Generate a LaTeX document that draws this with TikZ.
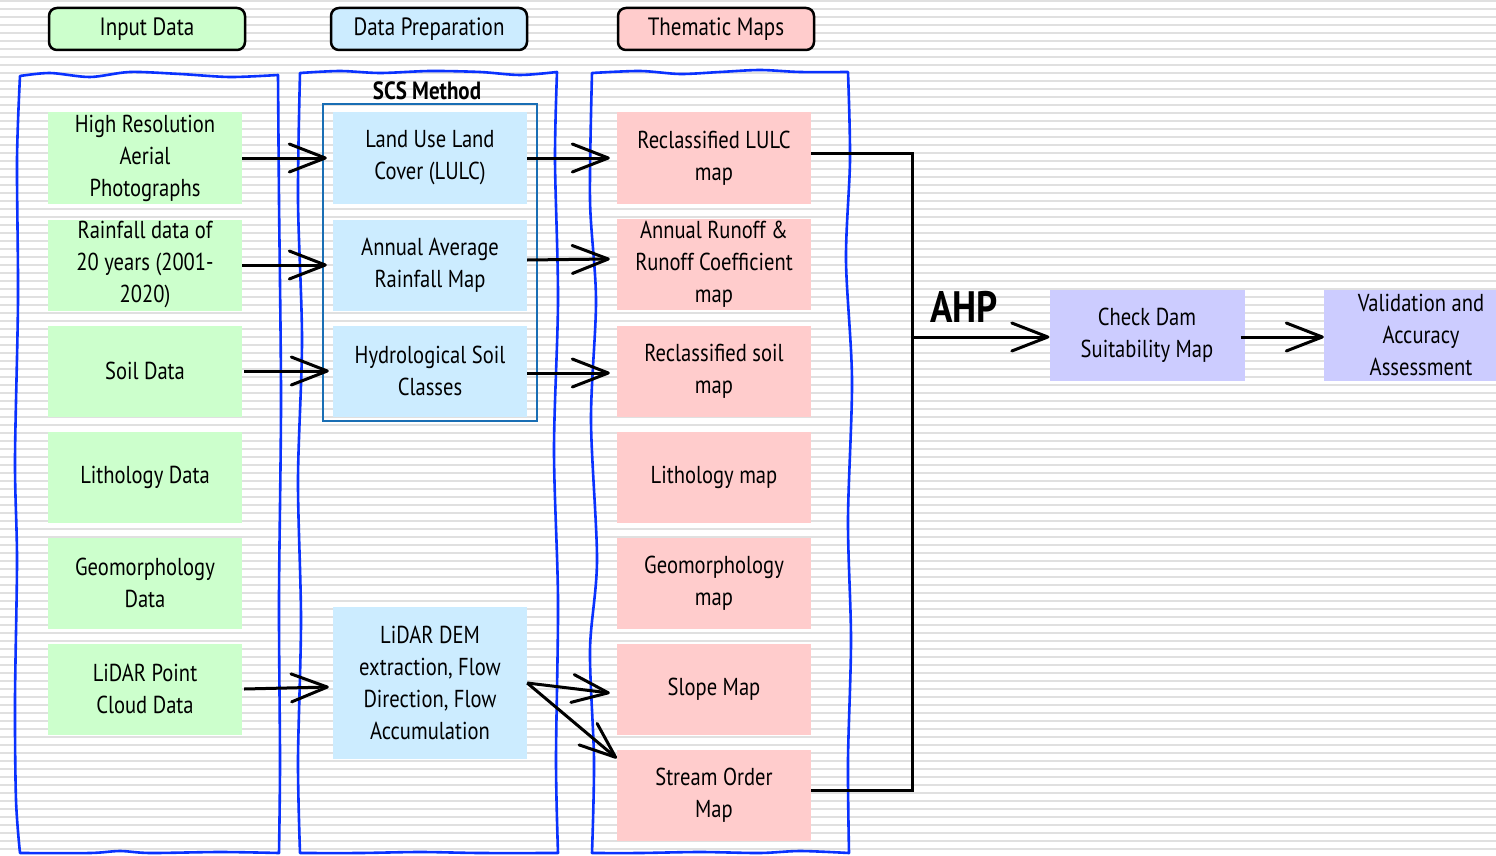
\documentclass[tikz,border=0pt]{standalone}
\usepackage{fontspec}
\setmainfont{PT Sans}[FakeStretch=0.84]
\usepackage{tikz}
\usetikzlibrary{arrows.meta,positioning,calc}
\definecolor{inputgreen}{RGB}{204,255,204}
\definecolor{prepblue}{RGB}{204,236,255}
\definecolor{mappink}{RGB}{255,204,204}
\definecolor{resultlilac}{RGB}{204,204,255}
\definecolor{framecol}{RGB}{10,50,255}
\definecolor{scsblue}{RGB}{25,110,180}
\tikzset{
    stepbox/.style={
        rectangle,
        minimum width=194pt,
        minimum height=91pt,
        inner sep=0pt,
        align=center,
        font=\fontsize{24.5}{32}\selectfont
    },
    inputbox/.style={stepbox, fill=inputgreen},
    prepbox/.style={stepbox, fill=prepblue},
    mapbox/.style={stepbox, fill=mappink},
    resultbox/.style={stepbox, fill=resultlilac},
    headbox/.style={
        rectangle,
        rounded corners=8pt,
        draw,
        line width=2.5pt,
        minimum width=196pt,
        minimum height=42pt,
        font=\fontsize{25}{30}\selectfont
    },
    colframe/.style={
        framecol,
        line width=2.6pt,
        line cap=round,
        line join=round
    },
    flow/.style={
        -{Straight Barb[length=36pt,width=28pt,round]},
        line width=3pt
    },
    bracket/.style={line width=3pt}
}

\begin{document}
\begin{tikzpicture}[x=1pt,y=-1pt]
    \useasboundingbox (0,0) rectangle (1496,856);

    % Lined paper background
    \fill[white] (0,0) rectangle (1496,856);
    \foreach \y in {1,9,...,856}
        \draw[gray!24,line width=2.6pt] (0,\y) -- (1496,\y);

    % Column headers
    \node[headbox, fill=inputgreen] (hinput) at (147,29) {Input Data};
    \node[headbox, fill=prepblue] (hprep) at (429,29) {Data Preparation};
    \node[headbox, fill=mappink] (hmaps) at (716,29) {Thematic Maps};

    % Hand drawn column frames
    \draw[colframe] plot[smooth] coordinates {(20,76) (50,73) (90,77) (130,72) (180,74) (230,77) (278,75)}
        -- plot[smooth] coordinates {(278,75) (279,200) (281,400) (279,600) (280,760) (279,853)}
        -- plot[smooth] coordinates {(279,853) (220,852) (150,853) (120,851) (90,853) (20,853)}
        -- plot[smooth] coordinates {(20,853) (16,800) (15,700) (17,560) (15,460) (18,300) (17,160) (20,76)};
    \draw[colframe] plot[smooth] coordinates {(300,73) (340,71) (380,73) (430,71) (480,72) (520,75) (557,72)}
        -- plot[smooth] coordinates {(557,72) (555,160) (558,300) (554,450) (558,600) (556,760) (558,853)}
        -- plot[smooth] coordinates {(558,853) (480,853) (420,852) (360,853) (300,853)}
        -- plot[smooth] coordinates {(300,853) (298,760) (301,620) (298,480) (302,340) (298,200) (300,73)};
    \draw[colframe] plot[smooth] coordinates {(592,73) (640,71) (680,74) (720,72) (760,70) (800,72) (848,72)}
        -- plot[smooth] coordinates {(848,72) (850,160) (846,260) (852,380) (848,520) (851,640) (848,760) (849,853)}
        -- plot[smooth] coordinates {(849,853) (800,851) (760,853) (700,852) (640,853) (592,853)}
        -- plot[smooth] coordinates {(592,853) (594,760) (590,650) (597,560) (591,420) (596,300) (590,200) (592,73)};

    % Input data
    \node[inputbox] (in1) at (145,158) {High Resolution\\Aerial\\Photographs};
    \node[inputbox] (in2) at (145,265) {Rainfall data of\\20 years (2001-\\2020)};
    \node[inputbox] (in3) at (145,371) {Soil Data};
    \node[inputbox] (in4) at (145,477) {Lithology Data};
    \node[inputbox] (in5) at (145,583) {Geomorphology\\Data};
    \node[inputbox] (in6) at (145,689) {LiDAR Point\\Cloud Data};

    % SCS group
    \draw[scsblue, line width=2pt] (323,104) rectangle (537,421);
    \node[font=\fontsize{25}{30}\selectfont\bfseries] (scs) at (427,91) {SCS Method};

    % Data preparation
    \node[prepbox] (prep1) at (430,158) {Land Use Land\\Cover (LULC)};
    \node[prepbox] (prep2) at (430,265) {Annual Average\\Rainfall Map};
    \node[prepbox] (prep3) at (430,371) {Hydrological Soil\\Classes};
    \node[prepbox, minimum height=152pt] (prep4) at (430,683) {LiDAR DEM\\extraction, Flow\\Direction, Flow\\Accumulation};

    % Thematic maps
    \node[mapbox] (map1) at (714,158) {Reclassified LULC\\map};
    \node[mapbox] (map2) at (714,264) {Annual Runoff \&\\Runoff Coefficient\\map};
    \node[mapbox] (map3) at (714,371) {Reclassified soil\\map};
    \node[mapbox] (map4) at (714,477) {Lithology map};
    \node[mapbox] (map5) at (714,583) {Geomorphology\\map};
    \node[mapbox] (map6) at (714,689) {Slope Map};
    \node[mapbox] (map7) at (714,795) {Stream Order\\Map};

    % Results
    \node[resultbox, minimum width=195pt] (cdam) at (1147,335) {Check Dam\\Suitability Map};
    \node[resultbox] (valid) at (1421,335) {Validation and\\Accuracy\\Assessment};

    % Input -> preparation
    \draw[flow] (in1.east) -- ([xshift=-6pt]prep1.west);
    \draw[flow] (in2.east) -- ([xshift=-6pt]prep2.west);
    \draw[flow] ([xshift=2pt]in3.east) -- ([xshift=-4pt]prep3.west);
    \draw[flow] ([xshift=2pt]in6.east) -- ([xshift=-4pt,yshift=-4pt]prep4.west);

    % Preparation -> maps
    \draw[flow] (prep1.east) -- ([xshift=-7pt]map1.west);
    \draw[flow] ([yshift=5pt]prep2.east) -- ([xshift=-7pt,yshift=5pt]map2.west);
    \draw[flow] ([yshift=-2pt]prep3.east) -- ([xshift=-7pt,yshift=-2pt]map3.west);
    \draw[flow] (prep4.east) -- ([xshift=-7pt,yshift=-4pt]map6.west);
    \draw[flow] (prep4.east) -- ([yshift=-9pt]map7.north west);

    % Maps combined by AHP
    \coordinate (joinx) at (912,0);
    \draw[bracket] ([yshift=5pt]map1.east) -- ([yshift=5pt]map1.east -| joinx)
        -- ([yshift=5pt]map7.east -| joinx) -- ([yshift=5pt]map7.east);
    \coordinate (merge) at (912,337);
    \node[font=\fontsize{44}{50}\selectfont\bfseries] (ahp) at (964,307) {AHP};
    \draw[flow] (merge) -- ([yshift=-2pt]cdam.west);
    \draw[flow] ([xshift=-4pt,yshift=-2pt]cdam.east) -- ([yshift=-2pt]valid.west);
\end{tikzpicture}
\end{document}
